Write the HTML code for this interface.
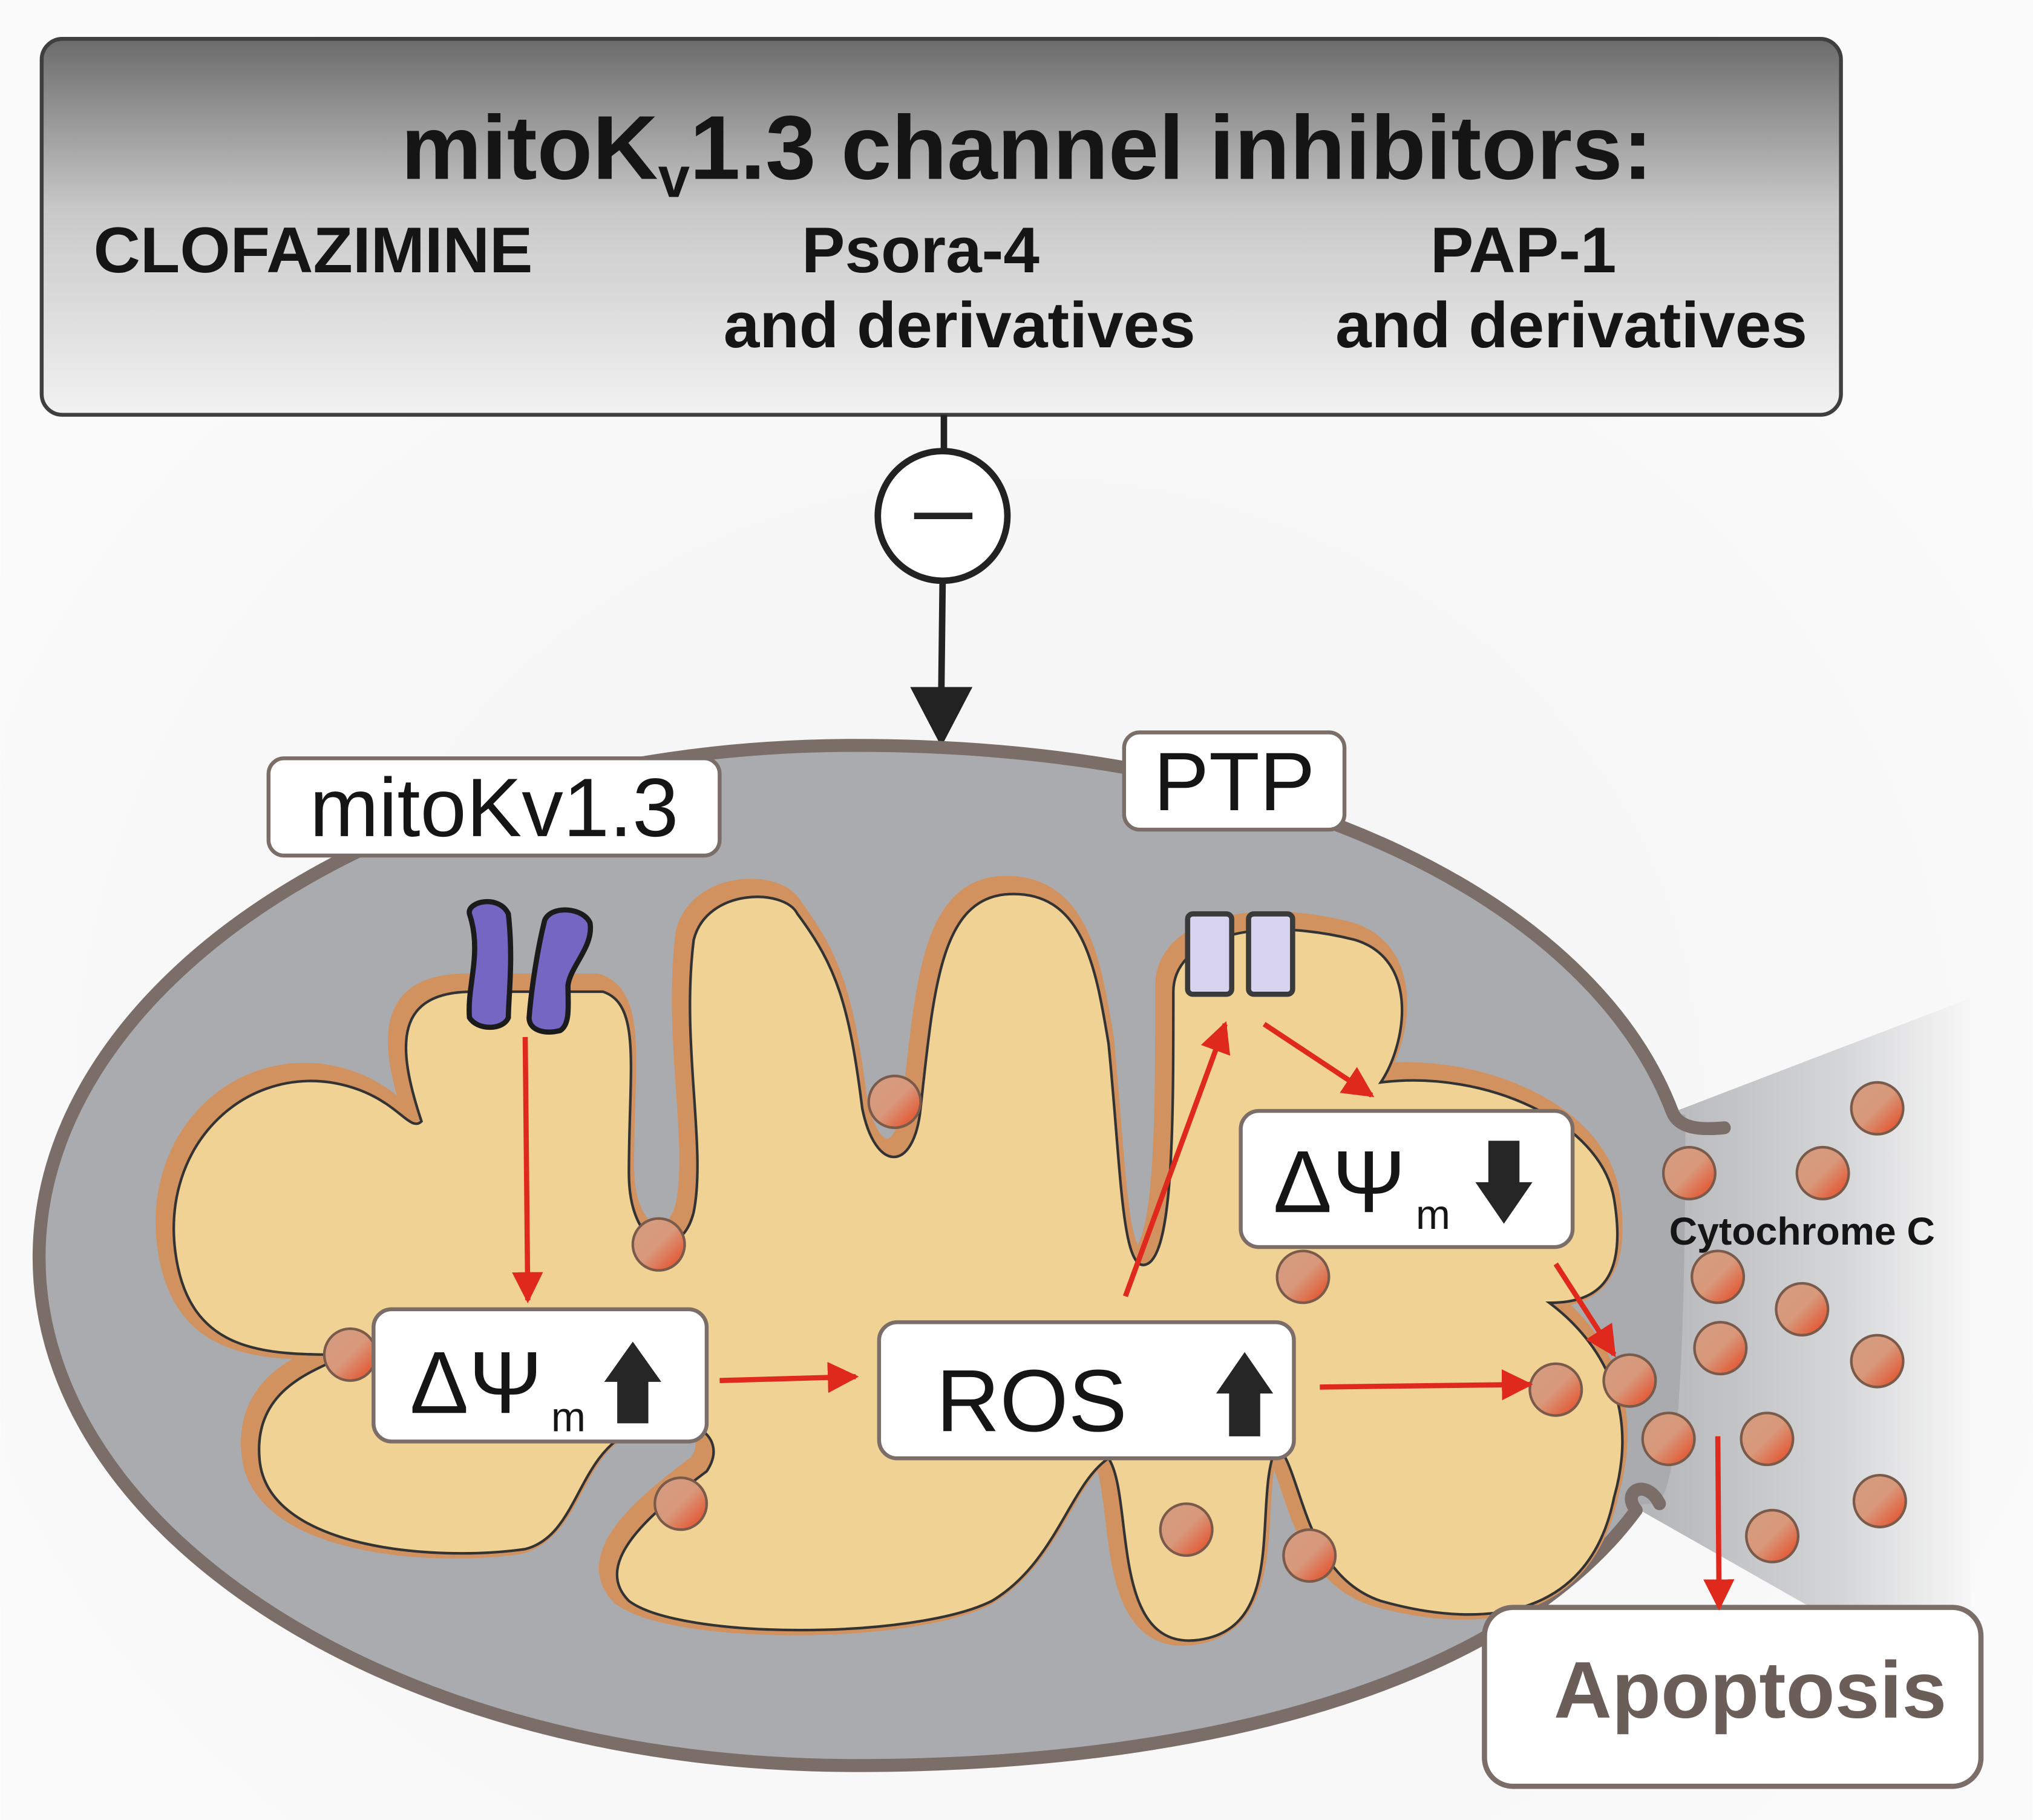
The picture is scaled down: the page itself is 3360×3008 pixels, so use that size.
<!DOCTYPE html>
<html><head><meta charset="utf-8"><style>
html,body{margin:0;padding:0;background:#fff;}
svg{display:block;}
text{font-family:"Liberation Sans",sans-serif;}
</style></head><body>
<svg width="3360" height="3008" viewBox="0 0 1568 1404" xmlns="http://www.w3.org/2000/svg">
<defs>
<linearGradient id="hdr" x1="0" y1="0" x2="0" y2="1">
<stop offset="0" stop-color="#6b6b6b"/><stop offset="0.45" stop-color="#c8c8c8"/><stop offset="1" stop-color="#f2f2f2"/>
</linearGradient>
<linearGradient id="cone" x1="0" y1="0" x2="1" y2="0">
<stop offset="0" stop-color="#b4b5b8"/><stop offset="0.6" stop-color="#d4d5d7"/><stop offset="1" stop-color="#f7f7f7"/>
</linearGradient>
<linearGradient id="ball" x1="0" y1="0" x2="1" y2="1">
<stop offset="0" stop-color="#d49d82"/><stop offset="0.5" stop-color="#d8987a"/><stop offset="1" stop-color="#e8421c"/>
</linearGradient>
<radialGradient id="bg" cx="0.5" cy="0.6" r="0.7">
<stop offset="0" stop-color="#f4f4f4"/><stop offset="1" stop-color="#fbfbfb"/>
</radialGradient>
<marker id="ra" viewBox="0 0 10 10" refX="9" refY="5" markerWidth="6" markerHeight="6" orient="auto"><path d="M0,0 L10,5 L0,10 Z" fill="#e0291d"/></marker>
</defs>
<rect width="1568" height="1404" fill="url(#bg)"/>

<!-- header -->
<rect x="32" y="30" width="1388" height="290" rx="16" fill="url(#hdr)" stroke="#3f3f3f" stroke-width="3"/>
<text x="792" y="138" text-anchor="middle" font-size="70" font-weight="bold" fill="#151515">mitoK<tspan font-size="44" dy="14">v</tspan><tspan dy="-14">1.3 channel inhibitors:</tspan></text>
<text x="72" y="210" font-size="50" font-weight="bold" fill="#151515">CLOFAZIMINE</text>
<text x="710" y="210" text-anchor="middle" font-size="50" font-weight="bold" fill="#151515">Psora-4</text>
<text x="740" y="268" text-anchor="middle" font-size="50" font-weight="bold" fill="#151515">and derivatives</text>
<text x="1175" y="210" text-anchor="middle" font-size="50" font-weight="bold" fill="#151515">PAP-1</text>
<text x="1212" y="268" text-anchor="middle" font-size="50" font-weight="bold" fill="#151515">and derivatives</text>

<!-- inhibition -->
<line x1="728" y1="320" x2="728" y2="350" stroke="#222" stroke-width="5"/>
<circle cx="727" cy="398" r="50" fill="#fff" stroke="#222" stroke-width="5"/>
<line x1="705" y1="398" x2="750" y2="398" stroke="#222" stroke-width="5"/>
<line x1="727" y1="448" x2="726" y2="535" stroke="#222" stroke-width="5"/>
<path d="M702,530 L750,530 L726,576 Z" fill="#222"/>

<!-- cone -->
<path d="M1285,860 L1520,770 L1520,1310 L1265,1165 Z" fill="url(#cone)"/>

<!-- mitochondrion -->
<path d="M1290,858 C1230,700 1000,575 660,575 C300,575 30,760 30,970 C30,1180 300,1362 660,1362 C950,1362 1170,1290 1262,1165 C1275,1140 1300,1240 1300,860 Z" fill="#a9abae"/>
<path d="M1290,858 C1230,700 1000,575 660,575 C300,575 30,760 30,970 C30,1180 300,1362 660,1362 C950,1362 1170,1290 1262,1165" fill="none" stroke="#7b6e68" stroke-width="10" stroke-linecap="round"/>
<path d="M1290,858 C1295,870 1310,872 1330,870" fill="none" stroke="#7b6e68" stroke-width="10" stroke-linecap="round"/>
<path d="M1262,1165 C1250,1150 1270,1140 1280,1160" fill="none" stroke="#7b6e68" stroke-width="10" stroke-linecap="round"/>

<!-- matrix -->
<path d="M130,960 C120,880 180,820 250,830 C300,838 310,870 320,860 C300,800 300,760 360,760 L460,760 C490,770 480,820 480,900 C480,960 520,970 530,930 C540,880 520,800 530,720 C540,680 600,680 610,700 C640,740 650,770 660,850 C670,900 700,900 705,850 C715,760 720,690 770,685 C830,680 840,740 850,800 C860,900 860,980 880,970 C900,960 900,860 900,760 C900,720 960,700 1040,720 C1090,735 1080,800 1060,830 C1140,820 1230,860 1240,920 C1250,980 1230,1000 1190,1000 C1230,1030 1260,1080 1240,1150 C1220,1250 1130,1250 1060,1230 C1000,1210 1000,1130 980,1110 C960,1150 990,1250 920,1260 C850,1270 870,1150 850,1120 C820,1140 810,1200 760,1230 C700,1260 520,1260 480,1230 C450,1200 500,1160 540,1130 C560,1100 520,1080 480,1100 C440,1120 440,1180 400,1190 C330,1200 200,1190 195,1120 C190,1060 250,1050 260,1040 C200,1040 140,1040 130,960 Z" fill="#f0d294" stroke="#d2925f" stroke-width="18" stroke-linejoin="round"/>
<path d="M130,960 C120,880 180,820 250,830 C300,838 310,870 320,860 C300,800 300,760 360,760 L460,760 C490,770 480,820 480,900 C480,960 520,970 530,930 C540,880 520,800 530,720 C540,680 600,680 610,700 C640,740 650,770 660,850 C670,900 700,900 705,850 C715,760 720,690 770,685 C830,680 840,740 850,800 C860,900 860,980 880,970 C900,960 900,860 900,760 C900,720 960,700 1040,720 C1090,735 1080,800 1060,830 C1140,820 1230,860 1240,920 C1250,980 1230,1000 1190,1000 C1230,1030 1260,1080 1240,1150 C1220,1250 1130,1250 1060,1230 C1000,1210 1000,1130 980,1110 C960,1150 990,1250 920,1260 C850,1270 870,1150 850,1120 C820,1140 810,1200 760,1230 C700,1260 520,1260 480,1230 C450,1200 500,1160 540,1130 C560,1100 520,1080 480,1100 C440,1120 440,1180 400,1190 C330,1200 200,1190 195,1120 C190,1060 250,1050 260,1040 C200,1040 140,1040 130,960 Z" fill="#f0d294" stroke="#333" stroke-width="2" transform="translate(5,5)"/>

<!-- channels -->
<path d="M362,705 C360,695 385,690 392,705 C396,740 392,770 392,785 C388,795 368,795 362,785 C360,760 372,735 362,705 Z" fill="#7466c2" stroke="#1b1b1b" stroke-width="4"/>
<path d="M420,710 C425,698 450,700 455,712 C458,730 440,745 438,760 C438,775 440,790 432,795 C420,798 408,795 408,785 C410,760 415,730 420,710 Z" fill="#7466c2" stroke="#1b1b1b" stroke-width="4"/>
<rect x="916" y="705" width="34" height="62" rx="4" fill="#d8d4f0" stroke="#3a3a3a" stroke-width="4"/>
<rect x="963" y="705" width="34" height="62" rx="4" fill="#d8d4f0" stroke="#3a3a3a" stroke-width="4"/>

<!-- balls -->
<g fill="url(#ball)" stroke="#7a5a4a" stroke-width="2">
<circle cx="690" cy="850" r="20"/><circle cx="508" cy="960" r="20"/><circle cx="270" cy="1045" r="20"/>
<circle cx="525" cy="1160" r="20"/><circle cx="915" cy="1180" r="20"/><circle cx="1010" cy="1200" r="20"/>
<circle cx="1005" cy="985" r="20"/><circle cx="1200" cy="1072" r="20"/><circle cx="1257" cy="1065" r="20"/>
<circle cx="1303" cy="905" r="20"/><circle cx="1325" cy="985" r="20"/><circle cx="1327" cy="1040" r="20"/>
<circle cx="1448" cy="855" r="20"/><circle cx="1406" cy="905" r="20"/><circle cx="1390" cy="1010" r="20"/>
<circle cx="1448" cy="1050" r="20"/><circle cx="1287" cy="1110" r="20"/><circle cx="1363" cy="1110" r="20"/>
<circle cx="1450" cy="1158" r="20"/><circle cx="1367" cy="1185" r="20"/>
</g>

<text x="1390" y="960" text-anchor="middle" font-size="30" font-weight="bold" fill="#151515">Cytochrome C</text>

<!-- label boxes -->
<rect x="207" y="585" width="348" height="75" rx="12" fill="#fff" stroke="#7b6e68" stroke-width="3"/>
<text x="381" y="645" text-anchor="middle" font-size="64" fill="#151515">mitoKv1.3</text>
<rect x="867" y="565" width="170" height="75" rx="12" fill="#fff" stroke="#7b6e68" stroke-width="3"/>
<text x="952" y="625" text-anchor="middle" font-size="64" fill="#151515">PTP</text>

<rect x="288" y="1010" width="257" height="102" rx="14" fill="#fff" stroke="#7b6e68" stroke-width="3"/>
<text x="316" y="1090" font-size="68" fill="#151515">ΔΨ</text><text x="425" y="1104" font-size="32" fill="#151515">m</text>
<path d="M476,1098 L500,1098 L500,1066 L510,1066 L488,1035 L466,1066 L476,1066 Z" fill="#262626"/>

<rect x="678" y="1020" width="320" height="105" rx="14" fill="#fff" stroke="#7b6e68" stroke-width="3"/>
<text x="722" y="1104" font-size="68" fill="#151515">ROS</text>
<path d="M948,1108 L972,1108 L972,1075 L982,1075 L960,1043 L938,1075 L948,1075 Z" fill="#262626"/>

<rect x="957" y="857" width="256" height="105" rx="14" fill="#fff" stroke="#7b6e68" stroke-width="3"/>
<text x="982" y="935" font-size="68" fill="#151515">ΔΨ</text><text x="1092" y="948" font-size="32" fill="#151515">m</text>
<path d="M1148,880 L1172,880 L1172,912 L1182,912 L1160,944 L1138,912 L1148,912 Z" fill="#262626"/>

<rect x="1145" y="1240" width="383" height="138" rx="22" fill="#fff" stroke="#7b6e68" stroke-width="4"/>
<text x="1350" y="1325" text-anchor="middle" font-size="62" font-weight="bold" fill="#6b5e58">Apoptosis</text>

<!-- red arrows -->
<g stroke="#e0291d" stroke-width="4" fill="none" marker-end="url(#ra)">
<line x1="405" y1="800" x2="407" y2="1003"/>
<line x1="555" y1="1065" x2="660" y2="1062"/>
<line x1="868" y1="1000" x2="945" y2="790"/>
<line x1="975" y1="790" x2="1058" y2="845"/>
<line x1="1018" y1="1070" x2="1180" y2="1068"/>
<line x1="1200" y1="975" x2="1245" y2="1045"/>
<line x1="1325" y1="1108" x2="1326" y2="1240"/>
</g>
</svg>
</body></html>
